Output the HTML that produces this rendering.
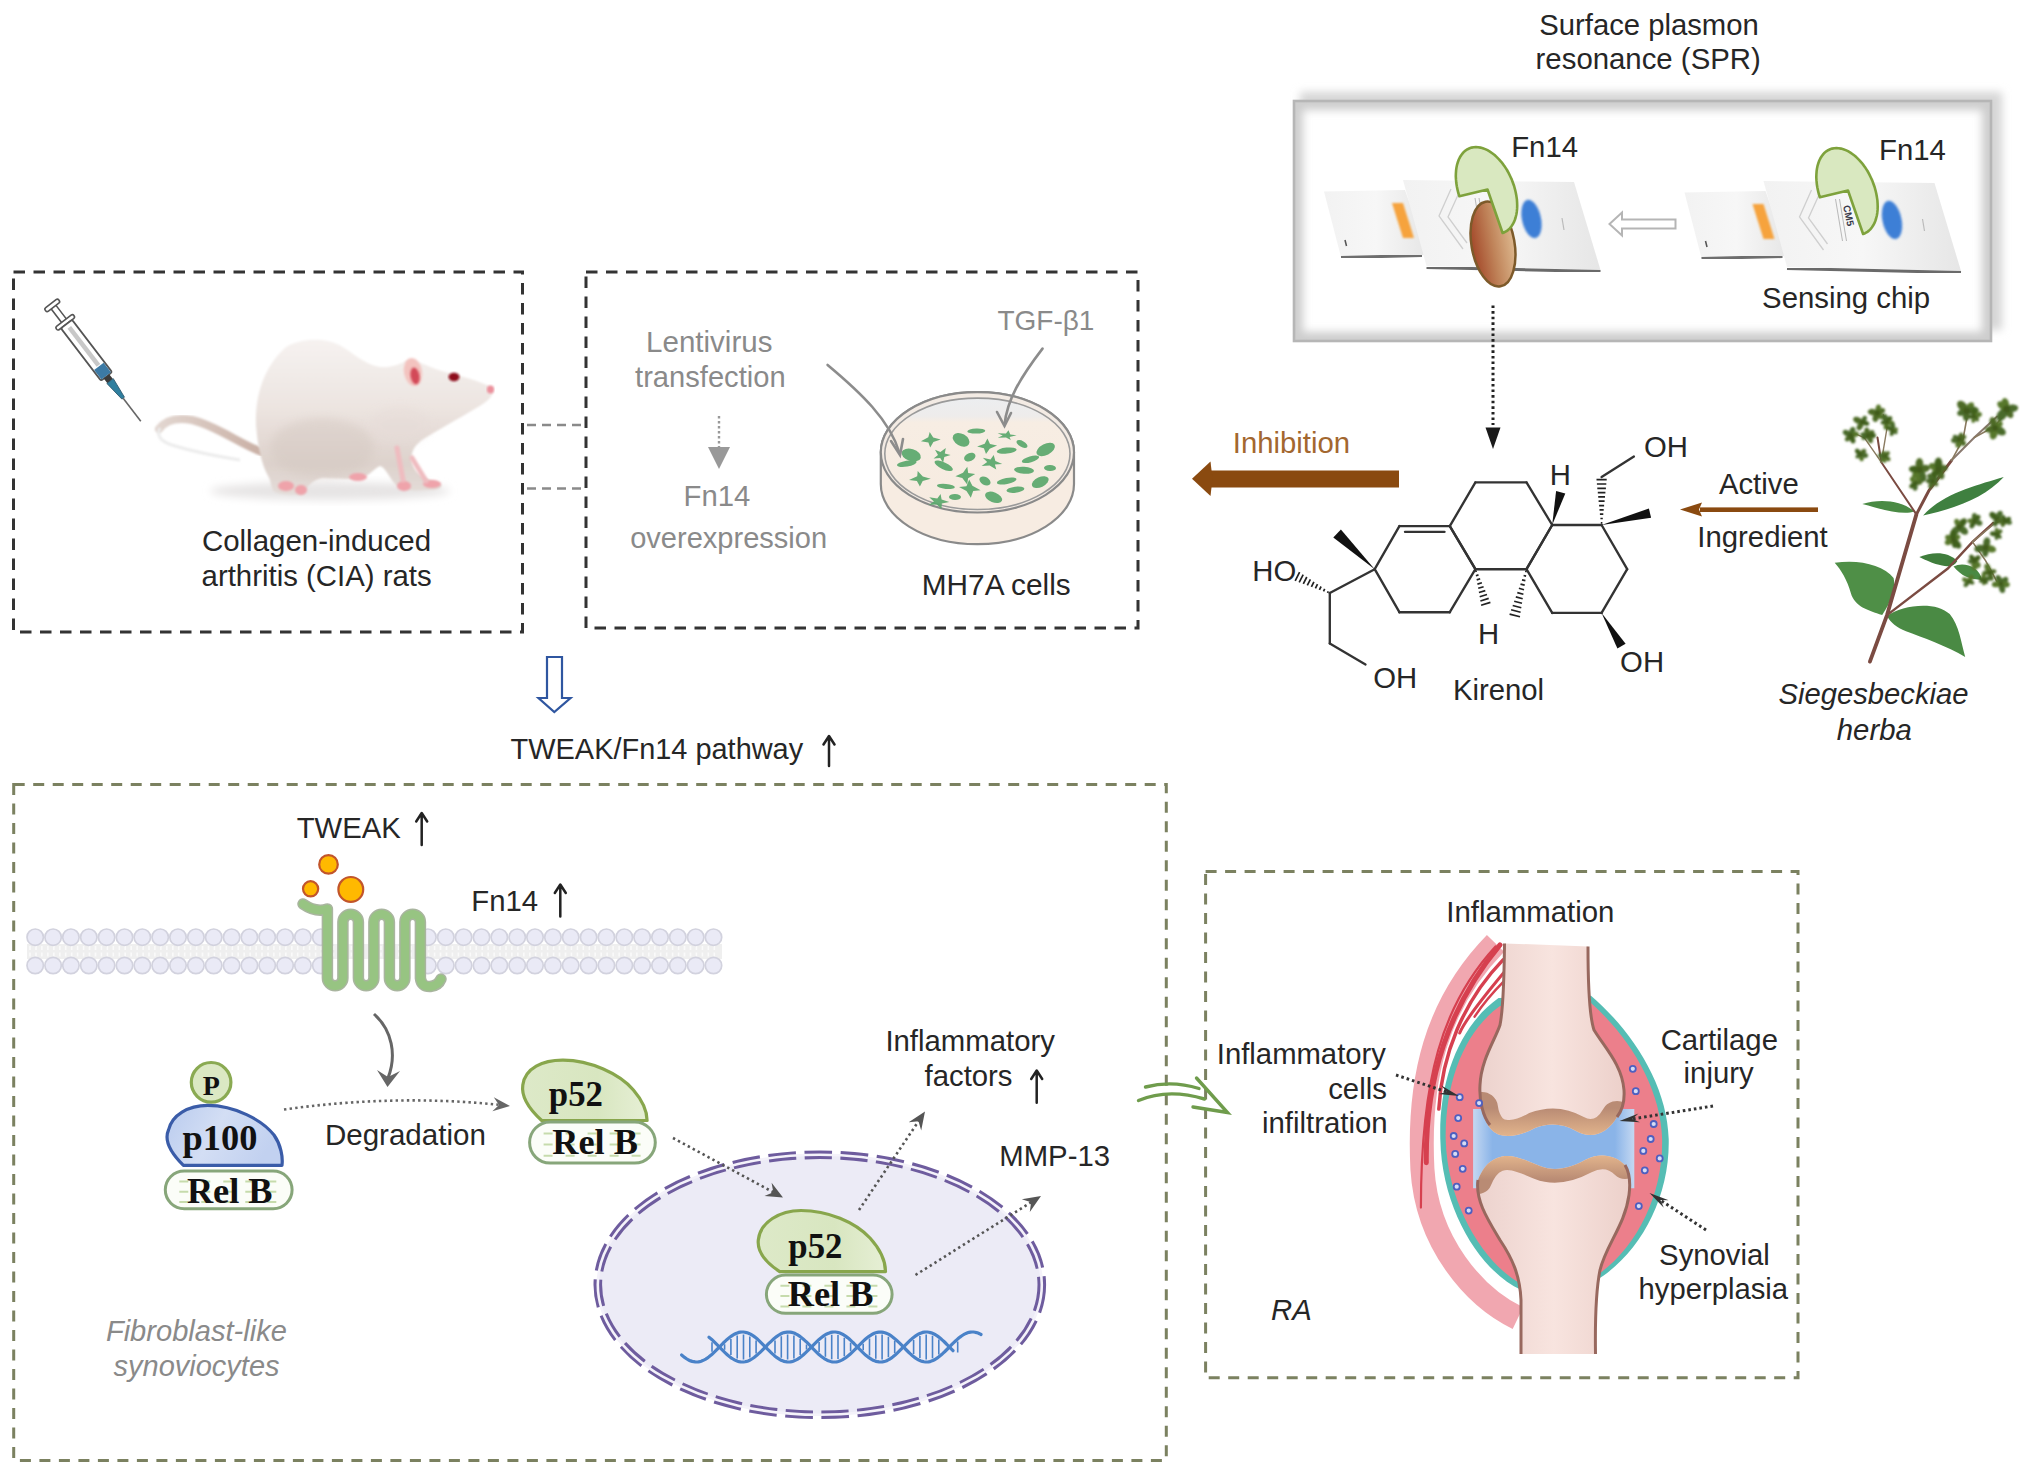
<!DOCTYPE html>
<html><head><meta charset="utf-8">
<style>
html,body{margin:0;padding:0;background:#fff;}
body{width:2032px;height:1474px;overflow:hidden;}
svg{display:block;}
text{font-family:"Liberation Sans",sans-serif;font-size:29.3px;fill:#262626;}
.g{fill:#8a8a8a;}
.it{font-style:italic;}
.sb{font-family:"Liberation Serif",serif;font-weight:bold;fill:#111;}
</style></head>
<body>
<svg width="2032" height="1474" viewBox="0 0 2032 1474">
<defs>
<linearGradient id="gL" x1="0" x2="1" y1="0" y2="0"><stop offset="0" stop-color="#bdbdbd"/><stop offset="1" stop-color="#fff"/></linearGradient>
<linearGradient id="gR" x1="1" x2="0" y1="0" y2="0"><stop offset="0" stop-color="#bdbdbd"/><stop offset="1" stop-color="#fff"/></linearGradient>
<linearGradient id="gT" x1="0" x2="0" y1="0" y2="1"><stop offset="0" stop-color="#bdbdbd"/><stop offset="1" stop-color="#fff"/></linearGradient>
<linearGradient id="gB" x1="0" x2="0" y1="1" y2="0"><stop offset="0" stop-color="#bdbdbd"/><stop offset="1" stop-color="#fff"/></linearGradient>
</defs>
<rect width="2032" height="1474" fill="#fff"/>

<!-- ===== BOXES ===== -->
<g fill="none" stroke="#333" stroke-width="3" stroke-dasharray="11.5 8.5">
<rect x="13.5" y="272" width="509" height="360"/>
<rect x="586" y="272" width="552" height="356"/>
</g>
<g stroke="#8a8a8a" stroke-width="2.5" stroke-dasharray="9 6">
<line x1="527" y1="425" x2="583" y2="425"/>
<line x1="527" y1="488.5" x2="583" y2="488.5"/>
</g>
<g fill="none" stroke="#7b8160" stroke-width="3" stroke-dasharray="11 8.5">
<rect x="13.7" y="784.4" width="1152.6" height="676"/>
<rect x="1205.6" y="871.5" width="592.4" height="506.3"/>
</g>

<!-- ===== SPR FRAME ===== -->
<g id="spr">
<filter id="fb4" x="-5%" y="-10%" width="110%" height="120%"><feGaussianBlur stdDeviation="4"/></filter>
<clipPath id="sprIn"><rect x="1294" y="101" width="697" height="240"/></clipPath>
<rect x="1300" y="92" width="702" height="238" fill="#d6d6d6" filter="url(#fb4)"/>
<rect x="1294" y="101" width="697" height="240" fill="#fff"/>
<rect x="1294" y="101" width="697" height="240" fill="none" stroke="#cdcdcd" stroke-width="18" filter="url(#fb4)" clip-path="url(#sprIn)"/>
<rect x="1294" y="101" width="697" height="240" fill="none" stroke="#b6b6b6" stroke-width="2.6"/>
</g>

<!-- ===== TEXT ===== -->
<g>
<text x="1649.0" y="34.7" text-anchor="middle" style="font-size:29.25px">Surface plasmon</text>
<text x="1648.2" y="68.7" text-anchor="middle" style="font-size:29.36px">resonance (SPR)</text>
<text x="1511.2" y="156.8" >Fn14</text>
<text x="1879.1" y="159.5" >Fn14</text>
<text x="1762.1" y="307.8" style="font-size:29.35px">Sensing chip</text>
<text x="201.9" y="551.3" style="font-size:29.46px">Collagen-induced</text>
<text x="201.6" y="585.9" style="font-size:29.37px">arthritis (CIA) rats</text>
<text class="g" x="646.1" y="351.8" style="font-size:29.53px">Lentivirus</text>
<text class="g" x="635.1" y="386.8" style="font-size:29.12px">transfection</text>
<text class="g" x="683.6" y="505.6">Fn14</text>
<text class="g" x="630.2" y="548" style="font-size:29.04px">overexpression</text>
<text class="g" x="997.4" y="330.2" style="font-size:28px">TGF-β1</text>
<text x="921.8" y="595" style="font-size:29.77px">MH7A cells</text>
<text x="1232.8" y="453.2" style="fill:#a3672f">Inhibition</text>
<text x="1718.9" y="494">Active</text>
<text x="1697.3" y="547" style="font-size:29.34px">Ingredient</text>
<text x="1252.3" y="581.1">HO</text>
<text x="1373.3" y="688.3">OH</text>
<text x="1478.1" y="644.3">H</text>
<text x="1549.8" y="484.6">H</text>
<text x="1643.9" y="457.1">OH</text>
<text x="1620.1" y="671.8">OH</text>
<text x="1452.9" y="699.5">Kirenol</text>
<text class="it" x="1778.5" y="703.5" style="font-size:29.23px">Siegesbeckiae</text>
<text class="it" x="1836.8" y="739.6">herba</text>
<text x="510.6" y="758.5" style="font-size:28.93px">TWEAK/Fn14 pathway</text>
<text x="296.7" y="837.8">TWEAK</text>
<text x="471.3" y="911" >Fn14</text>
<text x="324.9" y="1144.7" style="font-size:29.56px">Degradation</text>
<text x="885.4" y="1051" style="font-size:29.34px">Inflammatory</text>
<text x="924.6" y="1086.4">factors</text>
<text x="999.3" y="1166.2">MMP-13</text>
<text class="it g" x="105.9" y="1341" style="font-size:29.09px">Fibroblast-like</text>
<text class="it g" x="113.6" y="1375.5" style="font-size:28.99px">synoviocytes</text>
<text x="1446.3" y="921.6" style="font-size:29.37px">Inflammation</text>
<text x="1385.9" y="1064" text-anchor="end" style="font-size:29.25px">Inflammatory</text>
<text x="1386.8" y="1098.7" text-anchor="end">cells</text>
<text x="1387.7" y="1133.4" text-anchor="end" style="font-size:29.39px">infiltration</text>
<text x="1660.7" y="1049.5">Cartilage</text>
<text x="1683.6" y="1083">injury</text>
<text x="1659.1" y="1264.5">Synovial</text>
<text x="1638.6" y="1298.7" style="font-size:29.22px">hyperplasia</text>
<text class="it" x="1271.1" y="1320.3">RA</text>
</g>

<!-- up arrows -->
<g stroke="#222" stroke-width="2.5" fill="none" stroke-linecap="round" stroke-linejoin="round">
<path d="M829,766 V736.5 M823.5,744.5 L829,736 L834.5,744.5"/><path d="M421.7,845 V813.5 M416.2,821.5 L421.7,813 L427.2,821.5"/><path d="M560.3,916.5 V885.0 M554.8,893.0 L560.3,884.5 L565.8,893.0"/><path d="M1036.7,1102.7 V1071.0 M1031.2,1079.0 L1036.7,1070.5 L1042.2,1079.0"/>
</g>

<defs>
<linearGradient id="chipg" x1="0" x2="1" y1="0" y2="0"><stop offset="0" stop-color="#f2f2f2"/><stop offset="0.5" stop-color="#f7f7f7"/><stop offset="1" stop-color="#e6e6e6"/></linearGradient>
<linearGradient id="browng" x1="0" x2="1" y1="0" y2="0"><stop offset="0" stop-color="#a4492a"/><stop offset="0.5" stop-color="#c0845a"/><stop offset="1" stop-color="#ddb88e"/></linearGradient>
<filter id="bl1" x="-20%" y="-20%" width="140%" height="140%"><feGaussianBlur stdDeviation="1.2"/></filter>
<filter id="bl05"><feGaussianBlur stdDeviation="0.6"/></filter>
</defs>
<g transform="translate(0,0)">
<polygon points="1324,191.5 1405,190 1428,255 1341,257" fill="url(#chipg)"/>
<path d="M1341,257.5 L1422,255.5" stroke="#6e6e6e" stroke-width="3" filter="url(#bl05)"/>
<polygon points="1392,203 1403,203 1414,238 1403,238" fill="#f6a33c" filter="url(#bl1)"/>
<path d="M1345,240 l1.5,6" stroke="#555" stroke-width="1.6"/>
<polygon points="1403,180 1574,182 1600.5,270 1426.5,266" fill="url(#chipg)"/>
<path d="M1426.5,267.5 L1600.5,271.5" stroke="#6a6a6a" stroke-width="3" filter="url(#bl05)"/>
<ellipse cx="1531.5" cy="219" rx="9.5" ry="19.5" fill="#3d7fd6" filter="url(#bl1)" transform="rotate(-12 1531.5 219)"/>
<path d="M1451,189 L1439,216 L1463,249 M1458,195 L1448,217 L1467,243" stroke="#cfcfcf" stroke-width="1.3" fill="none"/>
<path d="M1475,198 L1482,240 M1479,198 L1486,240" stroke="#b8b8b8" stroke-width="1"/>
<path d="M1562,218 l2,12" stroke="#bbb" stroke-width="1.2"/>
<ellipse cx="1493" cy="244" rx="21.5" ry="43" transform="rotate(-10 1493 244)" fill="url(#browng)" stroke="#7d5a2a" stroke-width="2.5"/>
<path d="M1487.5,189.5 L1459.4,196.3 L1458.3,193.0 L1457.5,189.6 L1456.8,186.3 L1456.3,183.0 L1456.0,179.7 L1455.8,176.4 L1455.9,173.3 L1456.1,170.3 L1456.5,167.4 L1457.1,164.6 L1457.9,162.0 L1458.8,159.5 L1459.9,157.3 L1461.2,155.2 L1462.6,153.4 L1464.1,151.7 L1465.8,150.3 L1467.6,149.2 L1469.6,148.3 L1471.6,147.6 L1473.7,147.2 L1475.9,147.1 L1478.2,147.2 L1480.5,147.6 L1482.8,148.2 L1485.2,149.1 L1487.5,150.2 L1489.9,151.6 L1492.2,153.2 L1494.6,155.0 L1496.8,157.1 L1499.0,159.3 L1501.2,161.8 L1503.2,164.4 L1505.1,167.1 L1507.0,170.0 L1508.7,173.1 L1510.2,176.2 L1511.7,179.4 L1512.9,182.7 L1514.1,186.0 L1515.0,189.3 L1515.8,192.7 L1516.4,196.1 L1516.9,199.4 L1517.1,202.6 L1517.2,205.8 L1517.1,208.9 L1516.8,211.9 L1516.3,214.7 L1515.6,217.5 L1514.8,220.0 L1513.8,222.4 L1512.6,224.6 L1511.3,226.5 L1509.8,228.3 L1508.2,229.9 L1506.5,231.2 L1504.6,232.2 L1502.6,233.0 Z" fill="#d9e8c0" stroke="#7ea23c" stroke-width="2.6" stroke-linejoin="round"/>
</g>
<g transform="translate(360.5,1)">
<polygon points="1324,191.5 1405,190 1428,255 1341,257" fill="url(#chipg)"/>
<path d="M1341,257.5 L1422,255.5" stroke="#6e6e6e" stroke-width="3" filter="url(#bl05)"/>
<polygon points="1392,203 1403,203 1414,238 1403,238" fill="#f6a33c" filter="url(#bl1)"/>
<path d="M1345,240 l1.5,6" stroke="#555" stroke-width="1.6"/>
<polygon points="1403,180 1574,182 1600.5,270 1426.5,266" fill="url(#chipg)"/>
<path d="M1426.5,267.5 L1600.5,271.5" stroke="#6a6a6a" stroke-width="3" filter="url(#bl05)"/>
<ellipse cx="1531.5" cy="219" rx="9.5" ry="19.5" fill="#3d7fd6" filter="url(#bl1)" transform="rotate(-12 1531.5 219)"/>
<path d="M1451,189 L1439,216 L1463,249 M1458,195 L1448,217 L1467,243" stroke="#cfcfcf" stroke-width="1.3" fill="none"/>
<path d="M1475,198 L1482,240 M1479,198 L1486,240" stroke="#b8b8b8" stroke-width="1"/>
<path d="M1562,218 l2,12" stroke="#bbb" stroke-width="1.2"/>
<path d="M1487.5,189.5 L1459.4,196.3 L1458.3,193.0 L1457.5,189.6 L1456.8,186.3 L1456.3,183.0 L1456.0,179.7 L1455.8,176.4 L1455.9,173.3 L1456.1,170.3 L1456.5,167.4 L1457.1,164.6 L1457.9,162.0 L1458.8,159.5 L1459.9,157.3 L1461.2,155.2 L1462.6,153.4 L1464.1,151.7 L1465.8,150.3 L1467.6,149.2 L1469.6,148.3 L1471.6,147.6 L1473.7,147.2 L1475.9,147.1 L1478.2,147.2 L1480.5,147.6 L1482.8,148.2 L1485.2,149.1 L1487.5,150.2 L1489.9,151.6 L1492.2,153.2 L1494.6,155.0 L1496.8,157.1 L1499.0,159.3 L1501.2,161.8 L1503.2,164.4 L1505.1,167.1 L1507.0,170.0 L1508.7,173.1 L1510.2,176.2 L1511.7,179.4 L1512.9,182.7 L1514.1,186.0 L1515.0,189.3 L1515.8,192.7 L1516.4,196.1 L1516.9,199.4 L1517.1,202.6 L1517.2,205.8 L1517.1,208.9 L1516.8,211.9 L1516.3,214.7 L1515.6,217.5 L1514.8,220.0 L1513.8,222.4 L1512.6,224.6 L1511.3,226.5 L1509.8,228.3 L1508.2,229.9 L1506.5,231.2 L1504.6,232.2 L1502.6,233.0 Z" fill="#d9e8c0" stroke="#7ea23c" stroke-width="2.6" stroke-linejoin="round"/>
</g>
<text x="0" y="0" transform="translate(1843,206) rotate(78)" style="font-size:10px;font-weight:bold;fill:#3a3a4a">CM5</text>
<path d="M1675.5,219.5 L1622,219.5 L1622,212.5 L1609.5,224 L1622,235.5 L1622,228.5 L1675.5,228.5 Z" fill="#fff" stroke="#b5b5b5" stroke-width="2"/>
<path d="M1493,305.5 V425" stroke="#222" stroke-width="3" stroke-dasharray="2.6 3"/>
<polygon points="1485.5,427.5 1500.5,427.5 1493,449" fill="#1a1a1a"/>

<g stroke="#333" stroke-width="2.35" stroke-linecap="round" fill="none">
<line x1="1399.4" y1="526.1" x2="1449.8" y2="526.1"/>
<line x1="1449.8" y1="526.1" x2="1475.4" y2="569.2"/>
<line x1="1475.4" y1="569.2" x2="1449.8" y2="612.2"/>
<line x1="1449.8" y1="612.2" x2="1399.4" y2="612.2"/>
<line x1="1399.4" y1="612.2" x2="1374.7" y2="569.2"/>
<line x1="1374.7" y1="569.2" x2="1399.4" y2="526.1"/>
<line x1="1449.8" y1="526.1" x2="1475.4" y2="482.4"/>
<line x1="1475.4" y1="482.4" x2="1526.5" y2="482.4"/>
<line x1="1526.5" y1="482.4" x2="1552.2" y2="525.0"/>
<line x1="1552.2" y1="525.0" x2="1526.5" y2="569.2"/>
<line x1="1526.5" y1="569.2" x2="1475.4" y2="569.2"/>
<line x1="1475.4" y1="569.2" x2="1449.8" y2="526.1"/>
<line x1="1552.2" y1="525.0" x2="1601.6" y2="525.0"/>
<line x1="1601.6" y1="525.0" x2="1627.2" y2="569.2"/>
<line x1="1627.2" y1="569.2" x2="1601.6" y2="612.9"/>
<line x1="1601.6" y1="612.9" x2="1552.2" y2="612.9"/>
<line x1="1552.2" y1="612.9" x2="1526.5" y2="569.2"/>
<line x1="1526.5" y1="569.2" x2="1552.2" y2="525.0"/>
<line x1="1405.0" y1="531.8" x2="1444.5" y2="531.8"/>
<line x1="1374.7" y1="569.2" x2="1329.8" y2="593.0"/>
<line x1="1329.8" y1="593.0" x2="1329.8" y2="643.4"/>
<line x1="1329.8" y1="643.4" x2="1365.5" y2="664.4"/>
<line x1="1601.6" y1="477.0" x2="1633.9" y2="456.6"/>
</g>
<polygon fill="#111" points="1374.7,569.2 1340.9,529.4 1333.3,537.4"/>
<polygon fill="#111" points="1552.2,525.0 1565.3,493.4 1556.1,491.0"/>
<polygon fill="#111" points="1601.6,525.0 1651.1,517.7 1648.9,508.5"/>
<polygon fill="#111" points="1601.6,612.9 1617.4,648.5 1625.6,643.7"/>
<path stroke="#222" stroke-width="1.7" d="M1328.3,591.3L1327.5,592.8M1324.7,588.9L1323.5,591.3M1321.1,586.5L1319.4,589.8M1317.5,584.1L1315.4,588.3M1313.9,581.8L1311.4,586.8M1310.4,579.4L1307.3,585.4M1306.8,577.0L1303.3,583.9M1303.2,574.6L1299.2,582.4M1299.6,572.2L1295.2,580.9"/>
<path stroke="#222" stroke-width="1.7" d="M1475.2,571.5L1476.8,571.0M1475.9,575.7L1478.5,574.9M1476.7,579.9L1480.2,578.8M1477.4,584.1L1481.9,582.8M1478.2,588.3L1483.6,586.7M1478.9,592.5L1485.3,590.6M1479.7,596.7L1487.0,594.5M1480.4,601.0L1488.7,598.4M1481.1,605.2L1490.4,602.4"/>
<path stroke="#222" stroke-width="1.7" d="M1525.1,571.2L1526.7,571.6M1523.6,575.5L1526.1,576.1M1522.0,579.8L1525.4,580.6M1520.5,584.1L1524.7,585.1M1518.9,588.3L1524.0,589.7M1517.3,592.6L1523.4,594.2M1515.8,596.9L1522.7,598.7M1514.2,601.2L1522.0,603.2M1512.7,605.5L1521.3,607.7M1511.1,609.8L1520.6,612.2M1509.6,614.1L1520.0,616.7"/>
<path stroke="#222" stroke-width="1.7" d="M1602.4,522.8L1600.8,522.8M1602.8,518.5L1600.4,518.5M1603.3,514.2L1599.9,514.2M1603.7,509.9L1599.5,509.9M1604.1,505.6L1599.1,505.6M1604.6,501.2L1598.6,501.2M1605.0,496.9L1598.2,496.9M1605.4,492.6L1597.8,492.6M1605.9,488.3L1597.3,488.3M1606.3,484.0L1596.9,484.0M1606.7,479.7L1596.5,479.7"/>

<defs>
<linearGradient id="dishg" x1="0" x2="0" y1="0" y2="1"><stop offset="0" stop-color="#eceef0"/><stop offset="0.16" stop-color="#eeeceb"/><stop offset="0.22" stop-color="#f7ede3"/><stop offset="1" stop-color="#f6ebe0"/></linearGradient>
<clipPath id="dishclip"><ellipse cx="977.4" cy="454" rx="90" ry="54"/></clipPath>
</defs>
<path d="M880.8,452.3 L880.8,484 A96.6,60.2 0 0 0 1074.0,484 L1074.0,452.3 A96.6,60.2 0 0 0 880.8,452.3 Z" fill="#f7ece2" stroke="#8a8a8a" stroke-width="2.2"/>
<ellipse cx="977.4" cy="452.3" rx="96.6" ry="60.2" fill="#f3ebe4" stroke="#8a8a8a" stroke-width="2.2"/>
<ellipse cx="977.4" cy="453.8" rx="92.6" ry="55.7" fill="url(#dishg)" stroke="#9a9a9a" stroke-width="1.6"/>
<g fill="#5aa86c" opacity="0.92"><polygon points="940.7,439.4 933.4,442.1 930.2,447.6 928.4,442.4 920.9,441.3 928.3,437.3 929.7,432.0 933.2,437.4"/><ellipse cx="961.1" cy="439.8" rx="9" ry="6" transform="rotate(30 961.1 439.8)"/><ellipse cx="976.3" cy="431.1" rx="9" ry="2.5" transform="rotate(-2 976.3 431.1)"/><polygon points="1016.7,435.2 1009.6,436.9 1010.8,440.1 1006.0,437.4 997.7,437.7 1002.7,435.5 997.6,433.2 1005.9,433.4 1008.5,430.3 1010.3,434.5"/><ellipse cx="1045.7" cy="449.5" rx="10" ry="5.5" transform="rotate(-27 1045.7 449.5)"/><ellipse cx="911.2" cy="455" rx="10" ry="6" transform="rotate(17 911.2 455)"/><polygon points="950.6,454.9 944.3,457.0 943.1,462.7 940.2,457.9 933.5,458.5 938.0,455.1 935.0,449.7 940.4,452.1 945.8,448.1 944.8,453.6"/><ellipse cx="969.8" cy="457.1" rx="6" ry="4" transform="rotate(-24 969.8 457.1)"/><polygon points="997.1,445.5 989.7,448.7 986.0,454.1 983.9,448.2 977.1,446.5 984.7,443.8 987.4,438.5 990.0,444.1"/><ellipse cx="1006.7" cy="450.6" rx="10" ry="3" transform="rotate(-6 1006.7 450.6)"/><ellipse cx="1030.5" cy="459.3" rx="9" ry="3" transform="rotate(-16 1030.5 459.3)"/><ellipse cx="906.8" cy="463.6" rx="10" ry="3" transform="rotate(-10 906.8 463.6)"/><ellipse cx="943.7" cy="465.8" rx="10" ry="3.5" transform="rotate(25 943.7 465.8)"/><polygon points="1002.3,464.1 994.9,464.6 996.3,469.6 989.6,465.4 981.6,465.9 987.2,462.1 982.8,457.8 990.5,459.6 993.7,455.0 995.4,461.1"/><ellipse cx="1024" cy="470.2" rx="10" ry="3.5" transform="rotate(4 1024 470.2)"/><polygon points="930.8,478.7 922.7,481.1 919.9,486.6 916.9,481.1 909.0,480.1 917.2,476.3 917.7,471.1 922.8,476.5"/><polygon points="975.2,474.0 968.1,478.3 967.2,484.5 962.3,477.9 955.4,476.2 963.0,472.7 967.3,466.7 968.2,473.0"/><ellipse cx="985" cy="481" rx="6" ry="4" transform="rotate(30 985 481)"/><ellipse cx="1006.7" cy="481" rx="10" ry="3" transform="rotate(-11 1006.7 481)"/><ellipse cx="1040.3" cy="482.1" rx="9" ry="5" transform="rotate(-25 1040.3 482.1)"/><ellipse cx="945.9" cy="486.4" rx="9" ry="2.5" transform="rotate(6 945.9 486.4)"/><polygon points="980.6,490.3 973.2,491.0 970.8,497.7 966.5,491.0 959.0,486.9 966.5,486.2 969.2,479.5 972.4,485.7"/><ellipse cx="993.6" cy="497.3" rx="9" ry="5" transform="rotate(22 993.6 497.3)"/><ellipse cx="1015.4" cy="489.7" rx="9" ry="3" transform="rotate(-7 1015.4 489.7)"/><polygon points="949.3,502.0 941.8,503.5 941.5,509.1 936.7,504.5 928.4,505.0 933.9,501.6 929.2,497.2 937.3,498.6 940.6,494.0 941.6,499.6"/><ellipse cx="1022" cy="444" rx="6" ry="3" transform="rotate(29 1022 444)"/><ellipse cx="955" cy="497" rx="6" ry="3" transform="rotate(1 955 497)"/><ellipse cx="1050" cy="468" rx="6" ry="3" transform="rotate(3 1050 468)"/></g>
<g fill="none" stroke="#8c8c8c" stroke-width="2.6" stroke-linecap="round">
<path d="M827.6,364.9 C860,392 890,420 899.5,453"/>
<path d="M891,441 L900,455 L903,439"/>
<path d="M1042.5,348.6 C1020,378 1007,400 1004.5,425"/>
<path d="M997,412 L1004.5,426 L1011,413"/>
</g>

<defs>
<linearGradient id="ratg" x1="0" x2="0" y1="0" y2="1"><stop offset="0" stop-color="#f6f2f0"/><stop offset="0.45" stop-color="#ece4e0"/><stop offset="0.8" stop-color="#ddd2cc"/><stop offset="1" stop-color="#e4dcd8"/></linearGradient>
<linearGradient id="tailg" x1="0" x2="1"><stop offset="0" stop-color="#e2d6d0"/><stop offset="1" stop-color="#c9afa4"/></linearGradient>
<filter id="soft" x="-10%" y="-10%" width="120%" height="120%"><feGaussianBlur stdDeviation="1.3"/></filter>
<filter id="soft3" x="-30%" y="-30%" width="160%" height="160%"><feGaussianBlur stdDeviation="4"/></filter>
</defs>
<ellipse cx="330" cy="491" rx="120" ry="9" fill="#e6e4e4" filter="url(#soft3)"/>
<path d="M262,452 C240,444 215,425 192,420 C176,417 165,421 159,429" fill="none" stroke="url(#tailg)" stroke-width="8" stroke-linecap="round" filter="url(#soft)"/>
<path d="M160,428 C156,435 160,442 175,446 C195,452 215,456 240,460" fill="none" stroke="#ececec" stroke-width="3" filter="url(#soft)"/>
<path d="M256.5,430 C254,405 260,370 285.7,347.3 C300,338 325,337 340.3,345.5 C352,352 365,365 380,367 C392,368 400,364 408,360 C418,360 430,368 445,372 C460,376 478,380 493,388 C494,395 490,400 478,407 C465,415 448,424 425,438 C415,444 410,452 412,462 C414,472 422,478 436,482 C444,484 444,490 430,490 C415,491 402,491 395,484 C388,476 386,468 380,466 C372,470 370,476 360,478 C345,480 330,478 322,478 C312,480 306,488 304,494 C295,495 282,495 275,492 C270,488 272,482 268,476 C262,465 258,448 256.5,430 Z" fill="url(#ratg)" filter="url(#soft)"/>
<ellipse cx="322" cy="448" rx="52" ry="30" fill="#d3c7c0" opacity="0.45" filter="url(#soft3)"/>
<ellipse cx="400" cy="425" rx="30" ry="18" fill="#e6dcd8" opacity="0.5" filter="url(#soft3)"/>
<ellipse cx="413" cy="372" rx="9" ry="14" fill="#f3c3bf" filter="url(#soft)" transform="rotate(-10 413 372)"/>
<ellipse cx="415" cy="376" rx="4.5" ry="8.5" fill="#d34a58" filter="url(#soft)" transform="rotate(-10 415 376)"/>
<ellipse cx="454" cy="377" rx="5.5" ry="4.2" fill="#8e0e1c" filter="url(#soft)"/>
<ellipse cx="490.5" cy="389.5" rx="3.6" ry="4" fill="#ec8f9b" filter="url(#soft)"/>
<g fill="#efa3aa" filter="url(#soft)"><ellipse cx="286" cy="486" rx="8" ry="5"/><ellipse cx="301" cy="490" rx="6" ry="5"/><ellipse cx="358" cy="477" rx="9" ry="4"/><ellipse cx="404" cy="486" rx="7" ry="5"/><ellipse cx="432" cy="484" rx="9" ry="4"/><path d="M397,448 L403,480" stroke="#efbcc0" stroke-width="5" stroke-linecap="round"/><path d="M412,458 L426,481" stroke="#efbcc0" stroke-width="5" stroke-linecap="round"/></g>
<g transform="translate(52.1,305.2) rotate(52.6)">
<rect x="-2" y="-8.5" width="4.5" height="17" rx="2" fill="#fff" stroke="#555" stroke-width="1.6"/>
<path d="M2.5,-3 L19.5,-3 M2.5,3 L19.5,3" stroke="#555" stroke-width="1.6"/>
<rect x="19.5" y="-11" width="4.2" height="22" rx="2" fill="#fff" stroke="#555" stroke-width="1.6"/>
<rect x="23.7" y="-7" width="66" height="14" rx="2" fill="#fff" stroke="#555" stroke-width="1.7"/>
<rect x="28" y="-2.5" width="48" height="4.5" fill="#c8c8c8"/>
<rect x="77" y="-6" width="12" height="12" fill="#3c7aa5"/>
<rect x="89.5" y="-3.5" width="6" height="7" fill="#3a3a3a"/>
<path d="M95.5,-4 L117,-1.6 L117,1.6 L95.5,4 Z" fill="#2f7f9f" stroke="#28556a" stroke-width="0.8"/>
<path d="M117,0 L146,0" stroke="#666" stroke-width="1.6"/>
</g>

<g>
<path d="M1834.7,562.8 C1858.5,559.0 1883.2,564.7 1893.6,578.0 C1896.5,591.3 1887.0,608.4 1882.2,615.1 C1868.0,610.3 1854.7,606.5 1850.9,593.2 C1847.1,579.9 1841.4,570.4 1834.7,562.8 Z" fill="#4f8f47"/>
<path d="M1887.0,616.0 C1902.2,604.6 1936.4,600.8 1949.7,614.1 C1959.2,625.5 1961.1,642.6 1965.2,656.9 C1947.8,646.4 1921.2,636.9 1906.0,631.2 C1896.5,627.4 1890.8,622.7 1887.0,616.0 Z" fill="#4a8a44"/>
<path d="M1923.1,515.4 C1944.0,492.6 1978.1,485.0 2003.8,477.0 C1985.7,496.4 1959.2,507.8 1923.1,515.4 Z" fill="#3f8040"/>
<path d="M1862.3,504.0 C1879.4,498.3 1902.2,500.2 1914.5,511.6 C1902.2,515.4 1883.2,509.7 1862.3,504.0 Z" fill="#4a8a44"/>
<path d="M1919.3,557.1 C1932.6,551.4 1947.8,551.4 1957.3,560.9 C1953.5,568.5 1942.1,568.5 1919.3,557.1 Z" fill="#3f7d3c"/>
<path d="M1953.5,566.6 C1963.0,560.9 1980.0,566.6 1981.9,579.9 C1970.6,579.9 1961.1,576.1 1953.5,566.6 Z" fill="#4a8a44"/>
<g fill="none" stroke="#7b4b42" stroke-linecap="round">
<path d="M1869.9,661.6 L1887.0,615.1 L1916.4,514.4" stroke-width="3.8"/>
<path d="M1916.4,514.4 L1928.8,490.7 L1951.6,460.3" stroke-width="3"/>
<path d="M1951.6,460.3 L1974.3,437.5 L1997.1,416.6" stroke-width="2" stroke="#8a7a70"/>
<path d="M1916.4,514.4 L1881.3,462.2 L1877.5,437.5" stroke-width="2"/>
<path d="M1887.0,615.1 L1947.8,568.5 L1972.5,541.9 L1993.3,523.0" stroke-width="2.4"/>
<path d="M1951.6,460.3 L1963.0,439.4 L1966.8,418.5" stroke-width="1.6" stroke="#8a7a60"/>
<path d="M1974.3,437.5 L1995.2,426.1 L2006.6,410.9" stroke-width="1.6" stroke="#8a7a60"/>
<path d="M1881.3,462.2 L1864.2,437.5 L1854.7,433.7" stroke-width="1.4" stroke="#8a7a60"/>
<path d="M1881.3,462.2 L1887.0,428.0 L1883.2,414.7" stroke-width="1.4" stroke="#8a7a60"/>
<path d="M1972.5,541.9 L1995.2,523.0 L2004.7,519.2" stroke-width="1.6" stroke="#8a7a60"/>
<path d="M1972.5,541.9 L1985.7,560.9 L1997.1,581.8" stroke-width="1.6" stroke="#8a7a60"/>
</g>
<g filter="url(#bl1)"><ellipse cx="1881.2" cy="411.2" rx="4.1" ry="2.7" transform="rotate(337 1881.2 411.2)" fill="#4d6b25"/><ellipse cx="1880.2" cy="415.8" rx="4.1" ry="2.7" transform="rotate(408 1880.2 415.8)" fill="#57772c"/><ellipse cx="1875.9" cy="417.3" rx="4.7" ry="3.1" transform="rotate(469 1875.9 417.3)" fill="#4d6b25"/><ellipse cx="1872.6" cy="412.1" rx="4.9" ry="3.2" transform="rotate(548 1872.6 412.1)" fill="#4d6b25"/><ellipse cx="1878.2" cy="408.7" rx="4.2" ry="2.7" transform="rotate(640 1878.2 408.7)" fill="#57772c"/><circle cx="1877.5" cy="412.8" r="2.7" fill="#3f5a1e"/><ellipse cx="1857.8" cy="420.3" rx="4.9" ry="3.2" transform="rotate(204 1857.8 420.3)" fill="#4d6b25"/><ellipse cx="1864.1" cy="419.2" rx="3.6" ry="2.4" transform="rotate(300 1864.1 419.2)" fill="#4a6a2a"/><ellipse cx="1865.7" cy="423.2" rx="3.6" ry="2.3" transform="rotate(375 1865.7 423.2)" fill="#41601f"/><ellipse cx="1860.1" cy="426.1" rx="4.4" ry="2.9" transform="rotate(480 1860.1 426.1)" fill="#4d6b25"/><circle cx="1862.3" cy="422.3" r="2.3" fill="#3f5a1e"/><ellipse cx="1848.2" cy="438.2" rx="3.8" ry="2.5" transform="rotate(136 1848.2 438.2)" fill="#4d6b25"/><ellipse cx="1847.0" cy="433.3" rx="4.5" ry="2.9" transform="rotate(210 1847.0 433.3)" fill="#4a6a2a"/><ellipse cx="1852.2" cy="431.3" rx="4.4" ry="2.9" transform="rotate(288 1852.2 431.3)" fill="#4a6a2a"/><ellipse cx="1854.9" cy="434.5" rx="4.1" ry="2.7" transform="rotate(345 1854.9 434.5)" fill="#57772c"/><ellipse cx="1852.4" cy="439.4" rx="4.1" ry="2.7" transform="rotate(429 1852.4 439.4)" fill="#41601f"/><circle cx="1850.9" cy="435.6" r="2.5" fill="#3f5a1e"/><ellipse cx="1871.0" cy="433.3" rx="3.8" ry="2.5" transform="rotate(323 1871.0 433.3)" fill="#4d6b25"/><ellipse cx="1872.0" cy="435.7" rx="4.0" ry="2.6" transform="rotate(362 1872.0 435.7)" fill="#41601f"/><ellipse cx="1869.9" cy="439.3" rx="4.1" ry="2.7" transform="rotate(423 1869.9 439.3)" fill="#4d6b25"/><ellipse cx="1864.9" cy="437.3" rx="3.5" ry="2.3" transform="rotate(511 1864.9 437.3)" fill="#41601f"/><ellipse cx="1864.1" cy="434.9" rx="3.9" ry="2.6" transform="rotate(549 1864.1 434.9)" fill="#4a6a2a"/><ellipse cx="1867.1" cy="431.6" rx="4.1" ry="2.7" transform="rotate(618 1867.1 431.6)" fill="#4d6b25"/><circle cx="1868.0" cy="435.6" r="2.3" fill="#3f5a1e"/><ellipse cx="1883.8" cy="422.5" rx="3.2" ry="2.1" transform="rotate(176 1883.8 422.5)" fill="#41601f"/><ellipse cx="1885.3" cy="418.1" rx="4.5" ry="2.9" transform="rotate(248 1885.3 418.1)" fill="#4a6a2a"/><ellipse cx="1889.2" cy="419.4" rx="3.7" ry="2.4" transform="rotate(307 1889.2 419.4)" fill="#41601f"/><ellipse cx="1890.7" cy="423.0" rx="3.8" ry="2.5" transform="rotate(370 1890.7 423.0)" fill="#57772c"/><ellipse cx="1886.2" cy="426.0" rx="3.8" ry="2.5" transform="rotate(462 1886.2 426.0)" fill="#57772c"/><circle cx="1887.0" cy="422.3" r="2.1" fill="#3f5a1e"/><ellipse cx="1895.0" cy="431.7" rx="3.0" ry="2.0" transform="rotate(38 1895.0 431.7)" fill="#4a6a2a"/><ellipse cx="1891.9" cy="432.9" rx="3.1" ry="2.0" transform="rotate(104 1891.9 432.9)" fill="#41601f"/><ellipse cx="1889.5" cy="428.5" rx="3.5" ry="2.3" transform="rotate(204 1889.5 428.5)" fill="#41601f"/><ellipse cx="1892.7" cy="426.2" rx="3.7" ry="2.4" transform="rotate(270 1892.7 426.2)" fill="#4a6a2a"/><ellipse cx="1895.4" cy="429.4" rx="2.7" ry="1.8" transform="rotate(350 1895.4 429.4)" fill="#57772c"/><circle cx="1892.7" cy="429.9" r="1.7" fill="#3f5a1e"/><ellipse cx="1861.3" cy="457.9" rx="3.4" ry="2.3" transform="rotate(74 1861.3 457.9)" fill="#57772c"/><ellipse cx="1858.0" cy="456.1" rx="2.8" ry="1.9" transform="rotate(147 1858.0 456.1)" fill="#4a6a2a"/><ellipse cx="1858.0" cy="451.9" rx="3.6" ry="2.4" transform="rotate(229 1858.0 451.9)" fill="#41601f"/><ellipse cx="1863.0" cy="452.0" rx="3.7" ry="2.4" transform="rotate(315 1863.0 452.0)" fill="#4d6b25"/><ellipse cx="1864.3" cy="455.3" rx="3.9" ry="2.6" transform="rotate(370 1864.3 455.3)" fill="#4a6a2a"/><circle cx="1860.4" cy="454.6" r="1.9" fill="#3f5a1e"/><ellipse cx="1883.0" cy="459.0" rx="3.3" ry="2.1" transform="rotate(130 1883.0 459.0)" fill="#4d6b25"/><ellipse cx="1881.5" cy="455.7" rx="3.7" ry="2.4" transform="rotate(193 1881.5 455.7)" fill="#4a6a2a"/><ellipse cx="1884.2" cy="453.7" rx="2.9" ry="1.9" transform="rotate(252 1884.2 453.7)" fill="#4d6b25"/><ellipse cx="1887.1" cy="454.0" rx="3.2" ry="2.1" transform="rotate(310 1887.1 454.0)" fill="#4d6b25"/><ellipse cx="1887.6" cy="458.5" rx="3.2" ry="2.1" transform="rotate(399 1887.6 458.5)" fill="#4d6b25"/><ellipse cx="1884.7" cy="459.7" rx="3.2" ry="2.1" transform="rotate(456 1884.7 459.7)" fill="#57772c"/><circle cx="1885.1" cy="456.5" r="1.7" fill="#3f5a1e"/><ellipse cx="1924.6" cy="468.6" rx="5.5" ry="3.6" transform="rotate(347 1924.6 468.6)" fill="#4d6b25"/><ellipse cx="1921.7" cy="475.8" rx="6.5" ry="4.3" transform="rotate(428 1921.7 475.8)" fill="#4a6a2a"/><ellipse cx="1916.2" cy="473.9" rx="5.2" ry="3.4" transform="rotate(487 1916.2 473.9)" fill="#57772c"/><ellipse cx="1914.1" cy="469.2" rx="5.2" ry="3.4" transform="rotate(546 1914.1 469.2)" fill="#41601f"/><ellipse cx="1919.4" cy="463.9" rx="5.9" ry="3.9" transform="rotate(631 1919.4 463.9)" fill="#4d6b25"/><circle cx="1919.3" cy="469.8" r="3.1" fill="#3f5a1e"/><ellipse cx="1942.9" cy="468.4" rx="4.8" ry="3.2" transform="rotate(343 1942.9 468.4)" fill="#4d6b25"/><ellipse cx="1940.6" cy="474.4" rx="5.1" ry="3.4" transform="rotate(423 1940.6 474.4)" fill="#4d6b25"/><ellipse cx="1934.8" cy="473.5" rx="5.1" ry="3.3" transform="rotate(493 1934.8 473.5)" fill="#41601f"/><ellipse cx="1933.8" cy="467.0" rx="5.3" ry="3.4" transform="rotate(572 1933.8 467.0)" fill="#57772c"/><ellipse cx="1938.4" cy="463.7" rx="6.1" ry="4.0" transform="rotate(631 1938.4 463.7)" fill="#41601f"/><circle cx="1938.3" cy="469.8" r="3.1" fill="#3f5a1e"/><ellipse cx="1913.1" cy="480.1" rx="3.8" ry="2.5" transform="rotate(231 1913.1 480.1)" fill="#57772c"/><ellipse cx="1917.6" cy="479.8" rx="3.9" ry="2.5" transform="rotate(303 1917.6 479.8)" fill="#57772c"/><ellipse cx="1918.9" cy="482.7" rx="3.5" ry="2.3" transform="rotate(354 1918.9 482.7)" fill="#4d6b25"/><ellipse cx="1915.2" cy="486.9" rx="3.8" ry="2.5" transform="rotate(453 1915.2 486.9)" fill="#4a6a2a"/><ellipse cx="1912.6" cy="485.4" rx="3.7" ry="2.4" transform="rotate(500 1912.6 485.4)" fill="#41601f"/><circle cx="1915.5" cy="483.1" r="1.9" fill="#3f5a1e"/><ellipse cx="1934.3" cy="478.0" rx="3.6" ry="2.4" transform="rotate(299 1934.3 478.0)" fill="#41601f"/><ellipse cx="1935.6" cy="479.9" rx="3.3" ry="2.1" transform="rotate(337 1935.6 479.9)" fill="#4a6a2a"/><ellipse cx="1935.2" cy="483.4" rx="3.4" ry="2.2" transform="rotate(401 1935.2 483.4)" fill="#4d6b25"/><ellipse cx="1931.2" cy="484.9" rx="4.0" ry="2.6" transform="rotate(470 1931.2 484.9)" fill="#4d6b25"/><ellipse cx="1929.3" cy="481.0" rx="3.3" ry="2.2" transform="rotate(542 1929.3 481.0)" fill="#4a6a2a"/><ellipse cx="1930.5" cy="477.5" rx="4.2" ry="2.7" transform="rotate(601 1930.5 477.5)" fill="#4a6a2a"/><circle cx="1932.6" cy="481.2" r="2.1" fill="#3f5a1e"/><ellipse cx="1962.0" cy="412.5" rx="5.0" ry="3.3" transform="rotate(161 1962.0 412.5)" fill="#4a6a2a"/><ellipse cx="1962.4" cy="406.2" rx="6.4" ry="4.2" transform="rotate(227 1962.4 406.2)" fill="#4d6b25"/><ellipse cx="1969.9" cy="406.8" rx="5.2" ry="3.4" transform="rotate(308 1969.9 406.8)" fill="#57772c"/><ellipse cx="1972.8" cy="410.5" rx="6.1" ry="4.0" transform="rotate(356 1972.8 410.5)" fill="#4a6a2a"/><ellipse cx="1966.3" cy="416.0" rx="5.1" ry="3.4" transform="rotate(455 1966.3 416.0)" fill="#4a6a2a"/><circle cx="1966.8" cy="410.9" r="3.3" fill="#3f5a1e"/><ellipse cx="2009.4" cy="413.4" rx="5.2" ry="3.4" transform="rotate(58 2009.4 413.4)" fill="#4d6b25"/><ellipse cx="2002.1" cy="414.6" rx="7.2" ry="4.7" transform="rotate(129 2002.1 414.6)" fill="#4a6a2a"/><ellipse cx="2002.2" cy="405.7" rx="5.6" ry="3.6" transform="rotate(217 2002.2 405.7)" fill="#57772c"/><ellipse cx="2005.3" cy="403.6" rx="5.6" ry="3.7" transform="rotate(256 2005.3 403.6)" fill="#57772c"/><ellipse cx="2012.4" cy="408.3" rx="5.8" ry="3.8" transform="rotate(353 2012.4 408.3)" fill="#4a6a2a"/><circle cx="2006.6" cy="409.0" r="3.5" fill="#3f5a1e"/><ellipse cx="2000.4" cy="431.0" rx="5.9" ry="3.9" transform="rotate(30 2000.4 431.0)" fill="#4a6a2a"/><ellipse cx="1993.7" cy="433.7" rx="5.9" ry="3.9" transform="rotate(105 1993.7 433.7)" fill="#57772c"/><ellipse cx="1990.1" cy="429.2" rx="5.2" ry="3.4" transform="rotate(167 1990.1 429.2)" fill="#4d6b25"/><ellipse cx="1993.4" cy="422.6" rx="5.7" ry="3.7" transform="rotate(251 1993.4 422.6)" fill="#4d6b25"/><ellipse cx="1998.7" cy="425.0" rx="4.5" ry="3.0" transform="rotate(319 1998.7 425.0)" fill="#57772c"/><circle cx="1995.2" cy="428.0" r="2.9" fill="#3f5a1e"/><ellipse cx="1956.1" cy="437.6" rx="3.5" ry="2.3" transform="rotate(210 1956.1 437.6)" fill="#4a6a2a"/><ellipse cx="1960.5" cy="436.1" rx="3.6" ry="2.3" transform="rotate(293 1960.5 436.1)" fill="#4d6b25"/><ellipse cx="1962.6" cy="437.7" rx="3.8" ry="2.5" transform="rotate(334 1962.6 437.7)" fill="#4d6b25"/><ellipse cx="1962.3" cy="442.3" rx="4.2" ry="2.8" transform="rotate(403 1962.3 442.3)" fill="#4d6b25"/><ellipse cx="1958.3" cy="443.6" rx="4.3" ry="2.8" transform="rotate(461 1958.3 443.6)" fill="#57772c"/><ellipse cx="1955.1" cy="440.1" rx="4.1" ry="2.7" transform="rotate(529 1955.1 440.1)" fill="#4a6a2a"/><circle cx="1959.2" cy="439.4" r="2.3" fill="#3f5a1e"/><ellipse cx="1974.0" cy="412.6" rx="4.0" ry="2.6" transform="rotate(265 1974.0 412.6)" fill="#41601f"/><ellipse cx="1978.0" cy="415.1" rx="4.0" ry="2.6" transform="rotate(338 1978.0 415.1)" fill="#57772c"/><ellipse cx="1976.4" cy="418.8" rx="3.0" ry="2.0" transform="rotate(407 1976.4 418.8)" fill="#4d6b25"/><ellipse cx="1973.6" cy="419.7" rx="3.2" ry="2.1" transform="rotate(464 1973.6 419.7)" fill="#57772c"/><ellipse cx="1971.2" cy="416.7" rx="3.1" ry="2.0" transform="rotate(537 1971.2 416.7)" fill="#41601f"/><circle cx="1974.3" cy="416.6" r="1.9" fill="#3f5a1e"/><ellipse cx="1962.6" cy="522.8" rx="5.2" ry="3.4" transform="rotate(311 1962.6 522.8)" fill="#41601f"/><ellipse cx="1963.3" cy="530.3" rx="5.5" ry="3.6" transform="rotate(400 1963.3 530.3)" fill="#4a6a2a"/><ellipse cx="1955.3" cy="530.9" rx="5.6" ry="3.7" transform="rotate(493 1955.3 530.9)" fill="#4a6a2a"/><ellipse cx="1957.4" cy="522.9" rx="4.3" ry="2.8" transform="rotate(606 1957.4 522.9)" fill="#57772c"/><circle cx="1959.2" cy="526.8" r="2.7" fill="#3f5a1e"/><ellipse cx="1974.4" cy="517.0" rx="4.0" ry="2.6" transform="rotate(271 1974.4 517.0)" fill="#4a6a2a"/><ellipse cx="1977.1" cy="518.3" rx="3.9" ry="2.5" transform="rotate(316 1977.1 518.3)" fill="#41601f"/><ellipse cx="1978.3" cy="522.6" rx="4.2" ry="2.8" transform="rotate(382 1978.3 522.6)" fill="#4a6a2a"/><ellipse cx="1972.5" cy="524.6" rx="4.0" ry="2.6" transform="rotate(477 1972.5 524.6)" fill="#41601f"/><ellipse cx="1970.8" cy="520.9" rx="3.5" ry="2.3" transform="rotate(543 1970.8 520.9)" fill="#57772c"/><circle cx="1974.3" cy="521.1" r="2.3" fill="#3f5a1e"/><ellipse cx="2001.9" cy="521.1" rx="5.2" ry="3.4" transform="rotate(22 2001.9 521.1)" fill="#57772c"/><ellipse cx="1995.7" cy="522.8" rx="3.9" ry="2.6" transform="rotate(112 1995.7 522.8)" fill="#4a6a2a"/><ellipse cx="1993.6" cy="515.9" rx="4.8" ry="3.1" transform="rotate(222 1993.6 515.9)" fill="#41601f"/><ellipse cx="1999.2" cy="515.1" rx="4.6" ry="3.0" transform="rotate(297 1999.2 515.1)" fill="#4a6a2a"/><circle cx="1997.1" cy="519.2" r="2.5" fill="#3f5a1e"/><ellipse cx="2008.3" cy="522.1" rx="3.7" ry="2.4" transform="rotate(17 2008.3 522.1)" fill="#4a6a2a"/><ellipse cx="2003.3" cy="523.9" rx="3.2" ry="2.1" transform="rotate(118 2003.3 523.9)" fill="#4d6b25"/><ellipse cx="2000.9" cy="521.0" rx="3.8" ry="2.5" transform="rotate(181 2000.9 521.0)" fill="#4d6b25"/><ellipse cx="2003.8" cy="518.1" rx="3.1" ry="2.0" transform="rotate(252 2003.8 518.1)" fill="#41601f"/><ellipse cx="2007.8" cy="519.5" rx="3.4" ry="2.2" transform="rotate(333 2007.8 519.5)" fill="#41601f"/><circle cx="2004.7" cy="521.1" r="1.9" fill="#3f5a1e"/><ellipse cx="1956.7" cy="537.8" rx="3.9" ry="2.6" transform="rotate(325 1956.7 537.8)" fill="#57772c"/><ellipse cx="1956.9" cy="544.0" rx="5.3" ry="3.4" transform="rotate(408 1956.9 544.0)" fill="#41601f"/><ellipse cx="1954.3" cy="544.0" rx="4.0" ry="2.6" transform="rotate(438 1954.3 544.0)" fill="#41601f"/><ellipse cx="1949.2" cy="541.8" rx="4.6" ry="3.0" transform="rotate(518 1949.2 541.8)" fill="#57772c"/><ellipse cx="1949.4" cy="538.1" rx="4.5" ry="2.9" transform="rotate(566 1949.4 538.1)" fill="#57772c"/><ellipse cx="1953.1" cy="535.1" rx="5.0" ry="3.3" transform="rotate(626 1953.1 535.1)" fill="#41601f"/><circle cx="1953.5" cy="540.0" r="2.5" fill="#3f5a1e"/><ellipse cx="1990.9" cy="548.9" rx="5.3" ry="3.5" transform="rotate(14 1990.9 548.9)" fill="#57772c"/><ellipse cx="1985.3" cy="552.3" rx="4.7" ry="3.1" transform="rotate(96 1985.3 552.3)" fill="#4a6a2a"/><ellipse cx="1980.0" cy="548.5" rx="5.8" ry="3.8" transform="rotate(172 1980.0 548.5)" fill="#4a6a2a"/><ellipse cx="1986.7" cy="542.5" rx="5.3" ry="3.5" transform="rotate(281 1986.7 542.5)" fill="#4a6a2a"/><circle cx="1985.7" cy="547.6" r="2.9" fill="#3f5a1e"/><ellipse cx="1996.8" cy="531.1" rx="3.3" ry="2.1" transform="rotate(264 1996.8 531.1)" fill="#57772c"/><ellipse cx="1999.5" cy="532.1" rx="3.3" ry="2.1" transform="rotate(316 1999.5 532.1)" fill="#4d6b25"/><ellipse cx="1999.2" cy="536.3" rx="2.9" ry="1.9" transform="rotate(403 1999.2 536.3)" fill="#41601f"/><ellipse cx="1996.6" cy="537.2" rx="2.9" ry="1.9" transform="rotate(461 1996.6 537.2)" fill="#4a6a2a"/><ellipse cx="1993.5" cy="533.8" rx="3.7" ry="2.4" transform="rotate(548 1993.5 533.8)" fill="#41601f"/><circle cx="1997.1" cy="534.3" r="1.9" fill="#3f5a1e"/><ellipse cx="1972.2" cy="558.0" rx="3.7" ry="2.4" transform="rotate(234 1972.2 558.0)" fill="#41601f"/><ellipse cx="1977.2" cy="558.5" rx="3.8" ry="2.5" transform="rotate(319 1977.2 558.5)" fill="#41601f"/><ellipse cx="1977.1" cy="564.2" rx="4.2" ry="2.8" transform="rotate(409 1977.1 564.2)" fill="#57772c"/><ellipse cx="1974.4" cy="565.7" rx="4.7" ry="3.1" transform="rotate(449 1974.4 565.7)" fill="#57772c"/><ellipse cx="1971.0" cy="561.4" rx="3.4" ry="2.2" transform="rotate(532 1971.0 561.4)" fill="#4a6a2a"/><circle cx="1974.3" cy="560.9" r="2.3" fill="#3f5a1e"/><ellipse cx="1985.9" cy="572.9" rx="3.7" ry="2.4" transform="rotate(171 1985.9 572.9)" fill="#4d6b25"/><ellipse cx="1987.7" cy="568.1" rx="4.6" ry="3.0" transform="rotate(247 1987.7 568.1)" fill="#57772c"/><ellipse cx="1992.9" cy="571.6" rx="3.5" ry="2.3" transform="rotate(347 1992.9 571.6)" fill="#4d6b25"/><ellipse cx="1990.8" cy="576.5" rx="4.3" ry="2.8" transform="rotate(434 1990.8 576.5)" fill="#4d6b25"/><circle cx="1989.5" cy="572.3" r="2.3" fill="#3f5a1e"/><ellipse cx="1998.9" cy="579.5" rx="4.7" ry="3.1" transform="rotate(244 1998.9 579.5)" fill="#4a6a2a"/><ellipse cx="2004.3" cy="580.7" rx="4.5" ry="2.9" transform="rotate(318 2004.3 580.7)" fill="#4a6a2a"/><ellipse cx="2005.4" cy="584.4" rx="4.5" ry="2.9" transform="rotate(369 2005.4 584.4)" fill="#57772c"/><ellipse cx="2002.0" cy="588.3" rx="4.7" ry="3.0" transform="rotate(437 2002.0 588.3)" fill="#4a6a2a"/><ellipse cx="1996.4" cy="584.3" rx="4.6" ry="3.0" transform="rotate(533 1996.4 584.3)" fill="#57772c"/><circle cx="2000.9" cy="583.7" r="2.3" fill="#3f5a1e"/><ellipse cx="1970.6" cy="578.4" rx="4.0" ry="2.6" transform="rotate(300 1970.6 578.4)" fill="#57772c"/><ellipse cx="1971.5" cy="582.5" rx="2.9" ry="1.9" transform="rotate(373 1971.5 582.5)" fill="#41601f"/><ellipse cx="1966.4" cy="584.2" rx="3.3" ry="2.2" transform="rotate(493 1966.4 584.2)" fill="#4a6a2a"/><ellipse cx="1965.5" cy="580.1" rx="3.6" ry="2.4" transform="rotate(569 1965.5 580.1)" fill="#57772c"/><circle cx="1968.7" cy="581.8" r="1.9" fill="#3f5a1e"/><ellipse cx="1983.7" cy="582.6" rx="2.6" ry="1.7" transform="rotate(93 1983.7 582.6)" fill="#4d6b25"/><ellipse cx="1981.4" cy="580.8" rx="2.6" ry="1.7" transform="rotate(160 1981.4 580.8)" fill="#4a6a2a"/><ellipse cx="1981.5" cy="578.8" rx="2.6" ry="1.7" transform="rotate(206 1981.5 578.8)" fill="#41601f"/><ellipse cx="1983.6" cy="576.5" rx="3.4" ry="2.2" transform="rotate(266 1983.6 576.5)" fill="#57772c"/><ellipse cx="1987.3" cy="578.9" rx="3.6" ry="2.4" transform="rotate(343 1987.3 578.9)" fill="#4a6a2a"/><ellipse cx="1985.7" cy="581.9" rx="2.6" ry="1.7" transform="rotate(407 1985.7 581.9)" fill="#41601f"/><circle cx="1983.8" cy="579.9" r="1.7" fill="#3f5a1e"/></g>
</g>

<rect x="27" y="944" width="695" height="15" fill="#efefef"/>
<path d="M30.0,946v4M30.0,952.5v4M36.0,946v4M36.0,952.5v4M41.9,946v4M41.9,952.5v4M47.9,946v4M47.9,952.5v4M53.8,946v4M53.8,952.5v4M59.8,946v4M59.8,952.5v4M65.7,946v4M65.7,952.5v4M71.7,946v4M71.7,952.5v4M77.6,946v4M77.6,952.5v4M83.6,946v4M83.6,952.5v4M89.5,946v4M89.5,952.5v4M95.5,946v4M95.5,952.5v4M101.4,946v4M101.4,952.5v4M107.4,946v4M107.4,952.5v4M113.3,946v4M113.3,952.5v4M119.3,946v4M119.3,952.5v4M125.2,946v4M125.2,952.5v4M131.2,946v4M131.2,952.5v4M137.1,946v4M137.1,952.5v4M143.1,946v4M143.1,952.5v4M149.0,946v4M149.0,952.5v4M154.9,946v4M154.9,952.5v4M160.9,946v4M160.9,952.5v4M166.8,946v4M166.8,952.5v4M172.8,946v4M172.8,952.5v4M178.7,946v4M178.7,952.5v4M184.7,946v4M184.7,952.5v4M190.6,946v4M190.6,952.5v4M196.6,946v4M196.6,952.5v4M202.5,946v4M202.5,952.5v4M208.5,946v4M208.5,952.5v4M214.4,946v4M214.4,952.5v4M220.4,946v4M220.4,952.5v4M226.3,946v4M226.3,952.5v4M232.3,946v4M232.3,952.5v4M238.2,946v4M238.2,952.5v4M244.2,946v4M244.2,952.5v4M250.1,946v4M250.1,952.5v4M256.1,946v4M256.1,952.5v4M262.0,946v4M262.0,952.5v4M268.0,946v4M268.0,952.5v4M273.9,946v4M273.9,952.5v4M279.9,946v4M279.9,952.5v4M285.8,946v4M285.8,952.5v4M291.8,946v4M291.8,952.5v4M297.7,946v4M297.7,952.5v4M303.7,946v4M303.7,952.5v4M309.6,946v4M309.6,952.5v4M315.6,946v4M315.6,952.5v4M321.5,946v4M321.5,952.5v4M327.5,946v4M327.5,952.5v4M333.4,946v4M333.4,952.5v4M339.4,946v4M339.4,952.5v4M345.3,946v4M345.3,952.5v4M351.3,946v4M351.3,952.5v4M357.2,946v4M357.2,952.5v4M363.2,946v4M363.2,952.5v4M369.1,946v4M369.1,952.5v4M375.1,946v4M375.1,952.5v4M381.0,946v4M381.0,952.5v4M387.0,946v4M387.0,952.5v4M392.9,946v4M392.9,952.5v4M398.9,946v4M398.9,952.5v4M404.8,946v4M404.8,952.5v4M410.8,946v4M410.8,952.5v4M416.7,946v4M416.7,952.5v4M422.7,946v4M422.7,952.5v4M428.6,946v4M428.6,952.5v4M434.6,946v4M434.6,952.5v4M440.5,946v4M440.5,952.5v4M446.5,946v4M446.5,952.5v4M452.4,946v4M452.4,952.5v4M458.4,946v4M458.4,952.5v4M464.3,946v4M464.3,952.5v4M470.3,946v4M470.3,952.5v4M476.2,946v4M476.2,952.5v4M482.2,946v4M482.2,952.5v4M488.1,946v4M488.1,952.5v4M494.1,946v4M494.1,952.5v4M500.0,946v4M500.0,952.5v4M506.0,946v4M506.0,952.5v4M511.9,946v4M511.9,952.5v4M517.9,946v4M517.9,952.5v4M523.8,946v4M523.8,952.5v4M529.8,946v4M529.8,952.5v4M535.7,946v4M535.7,952.5v4M541.7,946v4M541.7,952.5v4M547.6,946v4M547.6,952.5v4M553.6,946v4M553.6,952.5v4M559.5,946v4M559.5,952.5v4M565.5,946v4M565.5,952.5v4M571.4,946v4M571.4,952.5v4M577.4,946v4M577.4,952.5v4M583.3,946v4M583.3,952.5v4M589.3,946v4M589.3,952.5v4M595.2,946v4M595.2,952.5v4M601.2,946v4M601.2,952.5v4M607.1,946v4M607.1,952.5v4M613.1,946v4M613.1,952.5v4M619.1,946v4M619.1,952.5v4M625.0,946v4M625.0,952.5v4M631.0,946v4M631.0,952.5v4M636.9,946v4M636.9,952.5v4M642.9,946v4M642.9,952.5v4M648.8,946v4M648.8,952.5v4M654.8,946v4M654.8,952.5v4M660.7,946v4M660.7,952.5v4M666.7,946v4M666.7,952.5v4M672.6,946v4M672.6,952.5v4M678.6,946v4M678.6,952.5v4M684.5,946v4M684.5,952.5v4M690.5,946v4M690.5,952.5v4M696.4,946v4M696.4,952.5v4M702.4,946v4M702.4,952.5v4M708.3,946v4M708.3,952.5v4M714.3,946v4M714.3,952.5v4" stroke="#fafafa" stroke-width="1.6"/>
<g fill="#eaeaf6" stroke="#d2d2de" stroke-width="1.7"><circle cx="35.2" cy="937.2" r="8.2"/><circle cx="53.1" cy="937.2" r="8.2"/><circle cx="70.9" cy="937.2" r="8.2"/><circle cx="88.8" cy="937.2" r="8.2"/><circle cx="106.6" cy="937.2" r="8.2"/><circle cx="124.5" cy="937.2" r="8.2"/><circle cx="142.3" cy="937.2" r="8.2"/><circle cx="160.2" cy="937.2" r="8.2"/><circle cx="178.0" cy="937.2" r="8.2"/><circle cx="195.9" cy="937.2" r="8.2"/><circle cx="213.7" cy="937.2" r="8.2"/><circle cx="231.6" cy="937.2" r="8.2"/><circle cx="249.4" cy="937.2" r="8.2"/><circle cx="267.2" cy="937.2" r="8.2"/><circle cx="285.1" cy="937.2" r="8.2"/><circle cx="302.9" cy="937.2" r="8.2"/><circle cx="320.8" cy="937.2" r="8.2"/><circle cx="427.9" cy="937.2" r="8.2"/><circle cx="445.8" cy="937.2" r="8.2"/><circle cx="463.6" cy="937.2" r="8.2"/><circle cx="481.5" cy="937.2" r="8.2"/><circle cx="499.3" cy="937.2" r="8.2"/><circle cx="517.2" cy="937.2" r="8.2"/><circle cx="535.0" cy="937.2" r="8.2"/><circle cx="552.9" cy="937.2" r="8.2"/><circle cx="570.7" cy="937.2" r="8.2"/><circle cx="588.6" cy="937.2" r="8.2"/><circle cx="606.4" cy="937.2" r="8.2"/><circle cx="624.3" cy="937.2" r="8.2"/><circle cx="642.1" cy="937.2" r="8.2"/><circle cx="660.0" cy="937.2" r="8.2"/><circle cx="677.8" cy="937.2" r="8.2"/><circle cx="695.7" cy="937.2" r="8.2"/><circle cx="713.5" cy="937.2" r="8.2"/><circle cx="35.2" cy="965.5" r="8.2"/><circle cx="53.1" cy="965.5" r="8.2"/><circle cx="70.9" cy="965.5" r="8.2"/><circle cx="88.8" cy="965.5" r="8.2"/><circle cx="106.6" cy="965.5" r="8.2"/><circle cx="124.5" cy="965.5" r="8.2"/><circle cx="142.3" cy="965.5" r="8.2"/><circle cx="160.2" cy="965.5" r="8.2"/><circle cx="178.0" cy="965.5" r="8.2"/><circle cx="195.9" cy="965.5" r="8.2"/><circle cx="213.7" cy="965.5" r="8.2"/><circle cx="231.6" cy="965.5" r="8.2"/><circle cx="249.4" cy="965.5" r="8.2"/><circle cx="267.2" cy="965.5" r="8.2"/><circle cx="285.1" cy="965.5" r="8.2"/><circle cx="302.9" cy="965.5" r="8.2"/><circle cx="320.8" cy="965.5" r="8.2"/><circle cx="427.9" cy="965.5" r="8.2"/><circle cx="445.8" cy="965.5" r="8.2"/><circle cx="463.6" cy="965.5" r="8.2"/><circle cx="481.5" cy="965.5" r="8.2"/><circle cx="499.3" cy="965.5" r="8.2"/><circle cx="517.2" cy="965.5" r="8.2"/><circle cx="535.0" cy="965.5" r="8.2"/><circle cx="552.9" cy="965.5" r="8.2"/><circle cx="570.7" cy="965.5" r="8.2"/><circle cx="588.6" cy="965.5" r="8.2"/><circle cx="606.4" cy="965.5" r="8.2"/><circle cx="624.3" cy="965.5" r="8.2"/><circle cx="642.1" cy="965.5" r="8.2"/><circle cx="660.0" cy="965.5" r="8.2"/><circle cx="677.8" cy="965.5" r="8.2"/><circle cx="695.7" cy="965.5" r="8.2"/><circle cx="713.5" cy="965.5" r="8.2"/></g>
<path d="M303,904 Q316,913 327.4,909 L327.4,978.0 A7.75,7.75 0 0 0 342.9,978.0 L342.9,922.0 A7.75,7.75 0 0 1 358.4,922.0 L358.4,978.0 A7.75,7.75 0 0 0 373.9,978.0 L373.9,922.0 A7.75,7.75 0 0 1 389.4,922.0 L389.4,978.0 A7.75,7.75 0 0 0 404.9,978.0 L404.9,922.0 A7.75,7.75 0 0 1 420.4,922.0 L420.4,978.0 Q421.4,987.0 430.4,986.5 Q438.4,985.5 441,979.0" fill="none" stroke="#a9b59f" stroke-width="11.5" stroke-linecap="round" stroke-linejoin="round"/>
<path d="M303,904 Q316,913 327.4,909 L327.4,978.0 A7.75,7.75 0 0 0 342.9,978.0 L342.9,922.0 A7.75,7.75 0 0 1 358.4,922.0 L358.4,978.0 A7.75,7.75 0 0 0 373.9,978.0 L373.9,922.0 A7.75,7.75 0 0 1 389.4,922.0 L389.4,978.0 A7.75,7.75 0 0 0 404.9,978.0 L404.9,922.0 A7.75,7.75 0 0 1 420.4,922.0 L420.4,978.0 Q421.4,987.0 430.4,986.5 Q438.4,985.5 441,979.0" fill="none" stroke="#97c482" stroke-width="8.5" stroke-linecap="round" stroke-linejoin="round"/>
<g fill="#ffb900" stroke="#c2552b" stroke-width="2.2"><circle cx="328.5" cy="864.4" r="9.3"/><circle cx="310.6" cy="888.8" r="7.6"/><circle cx="350.8" cy="889.4" r="12.4"/></g>

<defs>
<linearGradient id="blueg" x1="0" x2="1" y1="0" y2="0.3"><stop offset="0" stop-color="#b9cbee"/><stop offset="0.5" stop-color="#d3def4"/><stop offset="1" stop-color="#c2d1f0"/></linearGradient>
<linearGradient id="greeng" x1="0" x2="1" y1="0" y2="0"><stop offset="0" stop-color="#dde9c8"/><stop offset="0.6" stop-color="#d8e6c0"/><stop offset="1" stop-color="#e6efd5"/></linearGradient>
</defs>
<circle cx="211.1" cy="1082.3" r="19.8" fill="#dbe8c3" stroke="#8aaa52" stroke-width="3.2"/>
<text class="sb" x="202.8" y="1094.6" style="font-size:28px">P</text>
<path d="M183.4,1165.3 C170,1152 164,1140 168.5,1130 C172,1115 188,1105.5 207.7,1105.4 C235,1105.5 262,1120 274,1135 C281,1145 283,1157 282,1165.3 Z" fill="url(#blueg)" stroke="#3a5ca8" stroke-width="3.2" stroke-linejoin="round"/>
<text class="sb" x="182.6" y="1150.3" style="font-size:36.4px">p100</text>
<rect x="165.3" y="1170.9" width="126.8" height="37.9" rx="18.95" fill="#fbfdf8" stroke="#87a67a" stroke-width="3"/><path d="M179.3,1181.5h9M201.3,1181.5h9M223.3,1181.5h9M245.3,1181.5h9M267.3,1181.5h9M179.3,1191.7h9M201.3,1191.7h9M223.3,1191.7h9M245.3,1191.7h9M267.3,1191.7h9M179.3,1202.0h9M201.3,1202.0h9M223.3,1202.0h9M245.3,1202.0h9M267.3,1202.0h9" stroke="#b9d39a" stroke-width="2" opacity="0.8"/>
<text class="sb" x="186.9" y="1202.8" style="font-size:36.3px">Rel B</text>
<path d="M541.7,1120.5 C528,1108 521,1097 522.8,1085 C525,1068 543,1060 562.9,1060.1 C590,1060 620,1074 633.4,1090 C642,1100 647,1110 647.1,1120.5 Z" fill="url(#greeng)" stroke="#88a64c" stroke-width="3.2" stroke-linejoin="round"/>
<text class="sb" x="548.8" y="1105.5" style="font-size:34.8px">p52</text>
<rect x="529.6" y="1122" width="125.7" height="41.1" rx="20.55" fill="#fbfdf8" stroke="#87a67a" stroke-width="3"/><path d="M543.6,1133.5h9M565.6,1133.5h9M587.6,1133.5h9M609.6,1133.5h9M631.6,1133.5h9M543.6,1144.6h9M565.6,1144.6h9M587.6,1144.6h9M609.6,1144.6h9M631.6,1144.6h9M543.6,1155.7h9M565.6,1155.7h9M587.6,1155.7h9M609.6,1155.7h9M631.6,1155.7h9" stroke="#b9d39a" stroke-width="2" opacity="0.8"/>
<text class="sb" x="552.3" y="1154" style="font-size:36.3px">Rel B</text>

<ellipse cx="819.8" cy="1284.8" rx="222" ry="130" fill="#ecebf6"/>
<ellipse cx="819.8" cy="1284.8" rx="222" ry="130" fill="none" stroke="#6e5c9e" stroke-width="8.6" stroke-dasharray="27.5 8.5"/>
<ellipse cx="819.8" cy="1284.8" rx="222" ry="130" fill="none" stroke="#f4f2fa" stroke-width="2.6"/>
<path d="M681.6,1355.0 L683.1,1356.2 L684.6,1357.4 L686.1,1358.5 L687.6,1359.4 L689.1,1360.2 L690.6,1360.9 L692.2,1361.4 L693.7,1361.7 L695.2,1361.9 L696.7,1362.0 L698.2,1361.9 L699.7,1361.6 L701.2,1361.2 L702.7,1360.6 L704.2,1359.9 L705.7,1359.1 L707.2,1358.1 L708.7,1357.0 L710.2,1355.8 L711.8,1354.5 L713.3,1353.1 L714.8,1351.7 L716.3,1350.2 L717.8,1348.6 L719.3,1347.1 L720.8,1345.6 L722.3,1344.0 L723.8,1342.5 L725.3,1341.1 L726.8,1339.7 L728.3,1338.4 L729.8,1337.2 L731.4,1336.1 L732.9,1335.1 L734.4,1334.2 L735.9,1333.5 L737.4,1332.9 L738.9,1332.4 L740.4,1332.1 L741.9,1332.0 L743.4,1332.0 L744.9,1332.2 L746.4,1332.6 L747.9,1333.1 L749.5,1333.7 L751.0,1334.5 L752.5,1335.4 L754.0,1336.4 L755.5,1337.6 L757.0,1338.8 L758.5,1340.2 L760.0,1341.6 L761.5,1343.1 L763.0,1344.6 L764.5,1346.1 L766.0,1347.7 L767.5,1349.2 L769.1,1350.7 L770.6,1352.2 L772.1,1353.6 L773.6,1354.9 L775.1,1356.2 L776.6,1357.4 L778.1,1358.4 L779.6,1359.4 L781.1,1360.2 L782.6,1360.8 L784.1,1361.4 L785.6,1361.7 L787.1,1361.9 L788.7,1362.0 L790.2,1361.9 L791.7,1361.6 L793.2,1361.2 L794.7,1360.6 L796.2,1359.9 L797.7,1359.1 L799.2,1358.1 L800.7,1357.0 L802.2,1355.8 L803.7,1354.5 L805.2,1353.1 L806.7,1351.7 L808.3,1350.2 L809.8,1348.7 L811.3,1347.1 L812.8,1345.6 L814.3,1344.1 L815.8,1342.6 L817.3,1341.1 L818.8,1339.7 L820.3,1338.4 L821.8,1337.2 L823.3,1336.1 L824.8,1335.1 L826.3,1334.2 L827.9,1333.5 L829.4,1332.9 L830.9,1332.4 L832.4,1332.1 L833.9,1332.0 L835.4,1332.0 L836.9,1332.2 L838.4,1332.6 L839.9,1333.1 L841.4,1333.7 L842.9,1334.5 L844.4,1335.4 L845.9,1336.4 L847.5,1337.6 L849.0,1338.8 L850.5,1340.2 L852.0,1341.6 L853.5,1343.0 L855.0,1344.5 L856.5,1346.1 L858.0,1347.6 L859.5,1349.2 L861.0,1350.7 L862.5,1352.2 L864.0,1353.6 L865.5,1354.9 L867.1,1356.2 L868.6,1357.4 L870.1,1358.4 L871.6,1359.4 L873.1,1360.2 L874.6,1360.8 L876.1,1361.4 L877.6,1361.7 L879.1,1361.9 L880.6,1362.0 L882.1,1361.9 L883.6,1361.6 L885.2,1361.2 L886.7,1360.7 L888.2,1359.9 L889.7,1359.1 L891.2,1358.1 L892.7,1357.0 L894.2,1355.8 L895.7,1354.5 L897.2,1353.2 L898.7,1351.7 L900.2,1350.2 L901.7,1348.7 L903.2,1347.2 L904.8,1345.6 L906.3,1344.1 L907.8,1342.6 L909.3,1341.1 L910.8,1339.8 L912.3,1338.4 L913.8,1337.2 L915.3,1336.1 L916.8,1335.1 L918.3,1334.2 L919.8,1333.5 L921.3,1332.9 L922.8,1332.4 L924.4,1332.1 L925.9,1332.0 L927.4,1332.0 L928.9,1332.2 L930.4,1332.6 L931.9,1333.0 L933.4,1333.7 L934.9,1334.5 L936.4,1335.4 L937.9,1336.4 L939.4,1337.6 L940.9,1338.8 L942.4,1340.1 L944.0,1341.5 L945.5,1343.0 L947.0,1344.5 L948.5,1346.1 L950.0,1347.6 L951.5,1349.1 L953.0,1350.7" fill="none" stroke="#4a82c8" stroke-width="3.2" stroke-linecap="round"/>
<path d="M709.0,1337.2 L710.5,1338.4 L712.0,1339.7 L713.5,1341.1 L715.0,1342.6 L716.5,1344.1 L718.0,1345.6 L719.5,1347.1 L721.0,1348.7 L722.5,1350.2 L724.0,1351.7 L725.5,1353.1 L727.0,1354.5 L728.5,1355.8 L730.0,1357.0 L731.5,1358.1 L733.0,1359.0 L734.5,1359.9 L736.0,1360.6 L737.6,1361.2 L739.1,1361.6 L740.6,1361.9 L742.1,1362.0 L743.6,1362.0 L745.1,1361.8 L746.6,1361.4 L748.1,1360.9 L749.6,1360.2 L751.1,1359.4 L752.6,1358.5 L754.1,1357.5 L755.6,1356.3 L757.1,1355.1 L758.6,1353.7 L760.1,1352.3 L761.6,1350.9 L763.1,1349.3 L764.6,1347.8 L766.1,1346.3 L767.6,1344.7 L769.1,1343.2 L770.6,1341.8 L772.1,1340.4 L773.6,1339.0 L775.1,1337.8 L776.6,1336.6 L778.1,1335.5 L779.6,1334.6 L781.1,1333.8 L782.6,1333.1 L784.1,1332.6 L785.6,1332.3 L787.1,1332.1 L788.6,1332.0 L790.1,1332.1 L791.7,1332.4 L793.2,1332.8 L794.7,1333.3 L796.2,1334.1 L797.7,1334.9 L799.2,1335.9 L800.7,1337.0 L802.2,1338.2 L803.7,1339.4 L805.2,1340.8 L806.7,1342.2 L808.2,1343.7 L809.7,1345.2 L811.2,1346.8 L812.7,1348.3 L814.2,1349.8 L815.7,1351.3 L817.2,1352.8 L818.7,1354.2 L820.2,1355.5 L821.7,1356.7 L823.2,1357.8 L824.7,1358.8 L826.2,1359.7 L827.7,1360.5 L829.2,1361.1 L830.7,1361.5 L832.2,1361.8 L833.7,1362.0 L835.2,1362.0 L836.7,1361.8 L838.2,1361.5 L839.7,1361.0 L841.2,1360.4 L842.7,1359.6 L844.2,1358.7 L845.8,1357.7 L847.3,1356.6 L848.8,1355.3 L850.3,1354.0 L851.8,1352.6 L853.3,1351.2 L854.8,1349.7 L856.3,1348.2 L857.8,1346.6 L859.3,1345.1 L860.8,1343.6 L862.3,1342.1 L863.8,1340.7 L865.3,1339.3 L866.8,1338.0 L868.3,1336.8 L869.8,1335.8 L871.3,1334.8 L872.8,1334.0 L874.3,1333.3 L875.8,1332.7 L877.3,1332.3 L878.8,1332.1 L880.3,1332.0 L881.8,1332.1 L883.3,1332.3 L884.8,1332.7 L886.3,1333.2 L887.8,1333.9 L889.3,1334.7 L890.8,1335.7 L892.3,1336.7 L893.8,1337.9 L895.3,1339.2 L896.8,1340.5 L898.3,1341.9 L899.9,1343.4 L901.4,1344.9 L902.9,1346.4 L904.4,1348.0 L905.9,1349.5 L907.4,1351.0 L908.9,1352.5 L910.4,1353.9 L911.9,1355.2 L913.4,1356.4 L914.9,1357.6 L916.4,1358.6 L917.9,1359.5 L919.4,1360.3 L920.9,1361.0 L922.4,1361.4 L923.9,1361.8 L925.4,1362.0 L926.9,1362.0 L928.4,1361.9 L929.9,1361.6 L931.4,1361.1 L932.9,1360.5 L934.4,1359.8 L935.9,1358.9 L937.4,1357.9 L938.9,1356.8 L940.4,1355.6 L941.9,1354.3 L943.4,1352.9 L944.9,1351.5 L946.4,1350.0 L947.9,1348.5 L949.4,1347.0 L950.9,1345.4 L952.4,1343.9 L954.0,1342.4 L955.5,1341.0 L957.0,1339.6 L958.5,1338.3 L960.0,1337.1 L961.5,1336.0 L963.0,1335.0 L964.5,1334.1 L966.0,1333.4 L967.5,1332.8 L969.0,1332.4 L970.5,1332.1 L972.0,1332.0 L973.5,1332.0 L975.0,1332.2 L976.5,1332.6 L978.0,1333.1 L979.5,1333.7 L981.0,1334.5" fill="none" stroke="#4a82c8" stroke-width="3.2" stroke-linecap="round"/>
<path d="M712.0,1342.2V1351.8M724.6,1344.3V1349.7M730.9,1338.9V1355.1M737.2,1335.4V1358.6M743.5,1334.5V1359.5M749.8,1336.4V1357.6M756.1,1340.6V1353.4M775.0,1340.4V1353.6M781.3,1336.2V1357.8M787.6,1334.5V1359.5M793.9,1335.5V1358.5M800.2,1339.1V1354.9M806.5,1344.6V1349.4M819.1,1342.0V1352.0M825.4,1337.2V1356.8M831.7,1334.8V1359.2M838.0,1335.0V1359.0M844.3,1337.8V1356.2M850.6,1342.8V1351.2M863.2,1343.7V1350.3M869.5,1338.5V1355.5M875.8,1335.2V1358.8M882.1,1334.6V1359.4M888.4,1336.7V1357.3M894.7,1341.1V1352.9M913.6,1339.9V1354.1M919.9,1336.0V1358.0M926.2,1334.5V1359.5M932.5,1335.8V1358.2M938.8,1339.6V1354.4M957.7,1341.4V1352.6" stroke="#4a82c8" stroke-width="1.6"/>
<path d="M779.7,1271.6 C765,1262 757,1252 758.3,1240 C760,1222 780,1210.5 801,1210.5 C828,1210.5 855,1222 870,1238 C880,1249 885.5,1260 885.5,1271.6 Z" fill="url(#greeng)" stroke="#88a64c" stroke-width="3.2" stroke-linejoin="round"/>
<text class="sb" x="788.3" y="1258.3" style="font-size:34.8px">p52</text>
<rect x="766.4" y="1275.1" width="125.7" height="38.2" rx="19.1" fill="#fbfdf8" stroke="#87a67a" stroke-width="3"/><path d="M780.4,1285.8h9M802.4,1285.8h9M824.4,1285.8h9M846.4,1285.8h9M868.4,1285.8h9M780.4,1296.1h9M802.4,1296.1h9M824.4,1296.1h9M846.4,1296.1h9M868.4,1296.1h9M780.4,1306.4h9M802.4,1306.4h9M824.4,1306.4h9M846.4,1306.4h9M868.4,1306.4h9" stroke="#b9d39a" stroke-width="2" opacity="0.8"/>
<text class="sb" x="787.8" y="1306.2" style="font-size:36.3px">Rel B</text>

<defs>
<linearGradient id="boneg" x1="0" x2="1"><stop offset="0" stop-color="#ecd2cd"/><stop offset="0.5" stop-color="#f8e4df"/><stop offset="1" stop-color="#ecd0ca"/></linearGradient>
<linearGradient id="fluidg" x1="0" x2="1"><stop offset="0" stop-color="#c4d8f2"/><stop offset="0.12" stop-color="#8ab4e8"/><stop offset="0.88" stop-color="#8ab4e8"/><stop offset="1" stop-color="#c4d8f2"/></linearGradient>
<linearGradient id="cartg" x1="0" x2="0" y1="0" y2="1"><stop offset="0" stop-color="#b98b74"/><stop offset="1" stop-color="#e2b48c"/></linearGradient>
<linearGradient id="cartg2" x1="0" x2="0" y1="0" y2="1"><stop offset="0" stop-color="#e2b48c"/><stop offset="1" stop-color="#b98b74"/></linearGradient>
</defs>
<path d="M1495.5,943.4 C1435.8,1004.6 1417.9,1079.3 1422.4,1168.8 C1426.9,1243.4 1474.6,1297.2 1517.9,1318.1" fill="none" stroke="#f1a7b0" stroke-width="24"/>
<g fill="none" stroke="#d6404f" stroke-linecap="round">
<path d="M1500.0,944.9 C1447.8,1007.6 1425.4,1079.3 1426.3,1162.8" stroke-width="5"/>
<path d="M1495.5,946.4 C1441.8,1004.6 1420.9,1079.3 1420.9,1207.6" stroke-width="2.2"/>
<path d="M1503.0,959.9 C1462.7,1001.6 1441.8,1055.4 1438.8,1109.1" stroke-width="3.5"/>
<path d="M1504.5,971.8 C1474.6,1007.6 1462.7,1025.5 1459.7,1033.0" stroke-width="3"/>
<path d="M1504.5,980.7 C1489.6,995.7 1480.6,1007.6 1474.6,1016.6" stroke-width="2.5"/>
</g>
<path d="M1498.5,998.1 C1459.7,1025.5 1438.8,1079.3 1440.3,1139.0 C1441.8,1213.6 1483.6,1273.3 1520.9,1289.7 L1595.5,1280.7 C1638.8,1255.4 1670.1,1198.7 1668.7,1139.0 C1667.2,1085.2 1632.8,1031.5 1591.0,995.7 Z" fill="#55bdb4"/>
<path d="M1500.0,1006.1 C1464.2,1031.5 1444.8,1082.2 1445.7,1139.0 C1447.2,1207.6 1486.6,1265.8 1520.9,1283.7 L1595.5,1276.3 C1635.8,1249.4 1663.3,1195.7 1662.1,1139.0 C1660.6,1088.2 1629.9,1037.5 1591.0,1003.1 Z" fill="#ec7f8b"/>
<path d="M1473.1,1109.1 L1634.3,1109.1 L1634.3,1188.2 L1473.1,1188.2 Z" fill="url(#fluidg)"/>
<clipPath id="ubc"><path d="M1504.5,943.4 L1588,946.4 C1588,985 1589,1015 1594,1030 C1605,1048 1622,1065 1624,1090 C1625,1105 1621,1112 1617,1117 C1608,1133 1592,1140 1576,1131 C1562,1123 1548,1123 1535,1128 C1520,1136 1500,1141 1490,1128 C1483,1120 1479,1100 1480,1085 C1481,1060 1495,1040 1500,1025 C1503,1010 1504,990 1504.5,943.4 Z"/></clipPath><clipPath id="lbc"><path d="M1521,1354 L1595.5,1354 C1595,1320 1596,1290 1600,1270 C1606,1245 1625,1225 1629,1195 C1631,1180 1628,1170 1625,1165 C1615,1155 1600,1152 1585,1160 C1570,1168 1555,1172 1540,1166 C1525,1160 1510,1152 1497,1158 C1487,1162 1482,1170 1478,1180 C1475,1200 1488,1220 1500,1240 C1512,1258 1520,1275 1521,1300 Z"/></clipPath>
<path d="M1504.5,943.4 L1588,946.4 C1588,985 1589,1015 1594,1030 C1605,1048 1622,1065 1624,1090 C1625,1105 1621,1112 1617,1117 C1608,1133 1592,1140 1576,1131 C1562,1123 1548,1123 1535,1128 C1520,1136 1500,1141 1490,1128 C1483,1120 1479,1100 1480,1085 C1481,1060 1495,1040 1500,1025 C1503,1010 1504,990 1504.5,943.4 Z" fill="url(#boneg)"/>
<path d="M1521,1354 L1595.5,1354 C1595,1320 1596,1290 1600,1270 C1606,1245 1625,1225 1629,1195 C1631,1180 1628,1170 1625,1165 C1615,1155 1600,1152 1585,1160 C1570,1168 1555,1172 1540,1166 C1525,1160 1510,1152 1497,1158 C1487,1162 1482,1170 1478,1180 C1475,1200 1488,1220 1500,1240 C1512,1258 1520,1275 1521,1300 Z" fill="url(#boneg)"/>
<g clip-path="url(#ubc)"><path d="M1617,1117 C1608,1133 1592,1140 1576,1131 C1562,1123 1548,1123 1535,1128 C1520,1136 1500,1141 1490,1128 C1486,1123 1483,1116 1482,1108" fill="none" stroke="url(#cartg)" stroke-width="32" stroke-linecap="round"/></g>
<g clip-path="url(#lbc)"><path d="M1625,1165 C1615,1155 1600,1152 1585,1160 C1570,1168 1555,1172 1540,1166 C1525,1160 1510,1152 1497,1158 C1487,1162 1482,1170 1478,1180" fill="none" stroke="url(#cartg2)" stroke-width="28" stroke-linecap="round"/></g>
<g fill="none" stroke="#98685e" stroke-width="3" stroke-linejoin="round">
<path d="M1504.5,943.4 C1504,990 1503,1010 1500,1025 C1495,1040 1481,1060 1480,1085 C1479,1100 1483,1117 1490,1125"/>
<path d="M1588,946.4 C1588,985 1589,1015 1594,1030 C1605,1048 1622,1065 1624,1090 C1625,1105 1621,1112 1617,1117"/>
<path d="M1521,1354 L1521,1300 C1520,1275 1512,1258 1500,1240 C1488,1220 1475,1200 1478,1180"/>
<path d="M1595.5,1354 C1595,1320 1596,1290 1600,1270 C1606,1245 1625,1225 1629,1195 C1631,1180 1628,1170 1625,1165"/>
</g>
<g fill="#d6dcf5" stroke="#4e5fc0" stroke-width="1.8"><circle cx="1459.7" cy="1097.2" r="3"/><circle cx="1479.1" cy="1103.1" r="3"/><circle cx="1458.2" cy="1118.1" r="3"/><circle cx="1453.7" cy="1136.0" r="3"/><circle cx="1464.2" cy="1143.4" r="3"/><circle cx="1455.2" cy="1153.9" r="3"/><circle cx="1462.7" cy="1168.8" r="3"/><circle cx="1456.7" cy="1186.7" r="3"/><circle cx="1468.7" cy="1210.6" r="3"/><circle cx="1632.8" cy="1068.8" r="3"/><circle cx="1635.8" cy="1091.2" r="3"/><circle cx="1653.7" cy="1124.0" r="3"/><circle cx="1650.7" cy="1139.0" r="3"/><circle cx="1643.3" cy="1150.9" r="3"/><circle cx="1659.7" cy="1158.4" r="3"/><circle cx="1644.8" cy="1170.3" r="3"/><circle cx="1638.8" cy="1206.1" r="3"/></g>

<rect x="1211" y="470.5" width="188" height="17" fill="#8a4a10"/>
<polygon points="1192,478.8 1210.5,461.5 1212.5,478.8 1210.5,496" fill="#8a4a10"/>
<rect x="1700" y="507.4" width="118" height="4.6" fill="#8a4a10"/>
<polygon points="1680,509.5 1702,502.5 1699,509.5 1702,516.5" fill="#8a4a10"/>
<path d="M547,657 H562 V698 H570.5 L554.3,712 L538.5,698 H547 Z" fill="#fff" stroke="#2f56a0" stroke-width="2.2" stroke-linejoin="miter"/>
<path d="M284,1109.5 Q395,1094 499.9,1104.9" fill="none" stroke="#666" stroke-width="2.6" stroke-dasharray="2.4 3.2"/><polygon points="510,1106 492.4,1111.2 499.0,1104.9 493.8,1097.3" fill="#666"/>
<path d="M673,1138 L774.0,1192.6" fill="none" stroke="#555" stroke-width="2.6" stroke-dasharray="2.4 3.2"/><polygon points="783,1197.5 764.5,1196.0 773.3,1192.2 771.6,1182.8" fill="#555"/>
<path d="M859,1210 L919.0,1120.5" fill="none" stroke="#555" stroke-width="2.6" stroke-dasharray="2.4 3.2"/><polygon points="925,1111.5 921.2,1130.6 918.5,1121.2 908.7,1122.3" fill="#555"/>
<path d="M915.5,1275 L1031.9,1201.8" fill="none" stroke="#555" stroke-width="2.6" stroke-dasharray="2.4 3.2"/><polygon points="1041,1196 1029.8,1211.9 1031.1,1202.2 1021.8,1199.2" fill="#555"/>
<path d="M1396,1075 L1447.6,1092.2" fill="none" stroke="#333" stroke-width="3" stroke-dasharray="2.6 3"/><polygon points="1459,1096 1438.6,1093.9 1446.7,1091.9 1441.4,1085.4" fill="#333"/>
<path d="M1713,1106 L1631.3,1119.1" fill="none" stroke="#333" stroke-width="3" stroke-dasharray="2.6 3"/><polygon points="1619.5,1121 1638.5,1113.4 1632.3,1118.9 1640.0,1122.3" fill="#333"/>
<path d="M1706,1230 L1659.5,1199.6" fill="none" stroke="#333" stroke-width="3" stroke-dasharray="2.6 3"/><polygon points="1649.5,1193 1668.7,1200.2 1660.4,1200.1 1663.8,1207.7" fill="#333"/>
<path d="M374,1014 C392,1030 397,1055 388,1078" fill="none" stroke="#666" stroke-width="3"/>
<polygon points="387.5,1087 377,1070 388,1077 400,1071" fill="#666"/>
<path d="M719,416 V448" stroke="#999" stroke-width="2.4" stroke-dasharray="2.4 2.6"/>
<polygon points="708,447 730,447 719,469" fill="#999"/>
<g fill="none" stroke="#6f9c4c" stroke-width="3.4" stroke-linecap="round"><path d="M1145.5,1087 Q1172,1080 1199,1088.5"/><path d="M1138.5,1100.5 Q1168,1088 1204.5,1099"/><path d="M1196.5,1078 L1227.5,1112.5 L1193,1107"/></g>

</svg>
</body></html>
